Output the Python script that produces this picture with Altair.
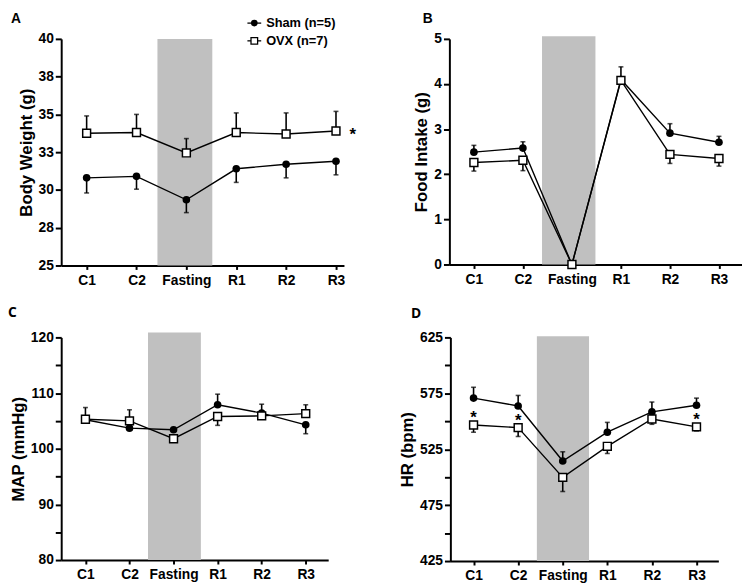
import altair as alt
import pandas as pd

categories = ["C1", "C2", "Fasting", "R1", "R2", "R3"]
groups = ["Sham (n=5)", "OVX (n=7)"]

# Panel A: body weight (g)
bw_sham = [30.8, 30.9, 29.35, 31.4, 31.7, 31.9]
bw_sham_err = [-1.0, -0.85, -0.85, -0.9, -0.9, -0.9]
bw_ovx = [33.75, 33.8, 32.45, 33.8, 33.7, 33.9]
bw_ovx_err = [1.15, 1.2, 0.95, 1.3, 1.4, 1.3]

# Panel B: food intake (g)
fi_sham = [2.49, 2.58, 0.0, 4.1, 2.91, 2.71]
fi_sham_err = [0.15, 0.14, 0.0, 0.28, 0.21, 0.13]
fi_ovx = [2.26, 2.31, 0.0, 4.08, 2.44, 2.35]
fi_ovx_err = [-0.19, -0.23, 0.0, 0.0, -0.2, -0.17]

# Panel C: MAP (mmHg)
map_sham = [105.2, 103.7, 103.4, 107.9, 106.4, 104.3]
map_sham_err = [0.0, 0.0, 0.0, 1.9, 1.6, -1.6]
map_ovx = [105.3, 105.0, 101.8, 105.8, 105.9, 106.3]
map_ovx_err = [2.1, 2.0, 0.0, -1.6, 0.0, 1.6]

# Panel D: HR (bpm)
hr_sham = [570.7, 563.7, 514.5, 540.2, 558.4, 564.3]
hr_sham_err = [9.7, 9.4, 8.2, 8.8, 8.8, 6.4]
hr_ovx = [546.7, 544.3, 499.8, 527.6, 552.0, 545.0]
hr_ovx_err = [-6.5, -7.9, -12.6, -6.4, -4.7, -3.6]

# significance stars (category index of OVX points)
bw_stars = [5]
hr_stars = [0, 1, 5]

FONT = "Liberation Sans"
label_expr_x = "[" + ",".join("'%s'" % c for c in categories) + "][datum.value]"


def make_df(sham, sham_err, ovx, ovx_err):
    rows = []
    for i in range(len(categories)):
        rows.append(dict(idx=i, group=groups[0], mean=sham[i], err=sham_err[i],
                         end=sham[i] + sham_err[i]))
        rows.append(dict(idx=i, group=groups[1], mean=ovx[i], err=ovx_err[i],
                         end=ovx[i] + ovx_err[i]))
    return pd.DataFrame(rows)


def legend_layers(x0, y0, dy):
    """Hand-drawn legend (line through marker + bold label), placed in pixels."""
    out = []
    for k, g in enumerate(groups):
        d = alt.Chart(pd.DataFrame(dict(label=[g])))
        y = y0 + k * dy
        out.append(d.mark_rule(color="black", strokeWidth=1.3).encode(
            x=alt.value(x0 - 7), x2=alt.value(x0 + 7), y=alt.value(y)))
        if k == 0:
            out.append(d.mark_point(shape="circle", filled=True, color="black", size=45,
                                    opacity=1).encode(x=alt.value(x0), y=alt.value(y)))
        else:
            out.append(d.mark_point(shape="square", filled=True, fill="white", stroke="black",
                                    strokeWidth=1.3, size=45, opacity=1).encode(
                x=alt.value(x0), y=alt.value(y)))
        out.append(d.mark_text(align="left", baseline="middle", font=FONT, fontWeight="bold",
                               fontSize=13, color="black").encode(
            x=alt.value(x0 + 12), y=alt.value(y), text="label:N"))
    return out


def panel(letter, letter_font, letter_x, letter_y, ytitle, df, ydomain, yvalues, ylabel_expr,
          xdomain, shade, shade_top, width, height, stars=None, star_dx=0, star_dy=0,
          legend=False):
    xs = alt.Scale(domain=xdomain, nice=False, zero=False)
    ys = alt.Scale(domain=ydomain, nice=False, zero=False)
    xaxis = alt.Axis(values=list(range(len(categories))), labelExpr=label_expr_x,
                     title=None, tickSize=4, labelPadding=4, labelFontSize=14)
    yaxis = alt.Axis(values=yvalues, labelExpr=ylabel_expr, title=ytitle,
                     tickSize=6, labelPadding=2, titlePadding=3)
    X = alt.X("idx:Q", scale=xs, axis=xaxis)
    Y = alt.Y("mean:Q", scale=ys, axis=yaxis)

    shade_df = pd.DataFrame([dict(x1=shade[0], x2=shade[1], y1=ydomain[0], y2=shade_top)])
    shade_layer = alt.Chart(shade_df).mark_rect(color="#c0c0c0").encode(
        x=alt.X("x1:Q", scale=xs, axis=xaxis), x2="x2:Q",
        y=alt.Y("y1:Q", scale=ys, axis=yaxis), y2="y2:Q")

    base = alt.Chart(df)
    errs = base.transform_filter("datum.err != 0")
    err_rule = errs.mark_rule(color="black", strokeWidth=1.6).encode(
        x=X, y=Y, y2="end:Q")
    err_cap = errs.mark_tick(color="black", orient="horizontal", size=5, thickness=1.6).encode(
        x=X, y=alt.Y("end:Q", scale=ys, axis=yaxis))
    lines = base.mark_line(color="black", strokeWidth=1.4).encode(
        x=X, y=Y, detail="group:N")
    sham_pts = base.transform_filter(alt.datum.group == groups[0]).mark_point(
        shape="circle", filled=True, color="black", size=60, opacity=1).encode(x=X, y=Y)
    ovx_pts = base.transform_filter(alt.datum.group == groups[1]).mark_point(
        shape="square", filled=True, fill="white", stroke="black", strokeWidth=1.5,
        size=64, opacity=1).encode(x=X, y=Y)

    letter_layer = alt.Chart(pd.DataFrame(dict(t=[letter]))).mark_text(
        align="left", baseline="middle", font=letter_font, fontWeight="bold", fontSize=14,
        color="black").encode(x=alt.value(letter_x), y=alt.value(letter_y), text="t:N")

    layers = [shade_layer, err_rule, err_cap, lines, sham_pts, ovx_pts, letter_layer]

    if stars:
        sdf = df[(df.group == groups[1]) & (df.idx.isin(stars))]
        star_layer = alt.Chart(sdf).mark_text(
            text="*", font=FONT, fontWeight="bold", fontSize=17, color="black",
            dx=star_dx, dy=star_dy, baseline="middle").encode(x=X, y=Y)
        layers.append(star_layer)

    if legend:
        layers.extend(legend_layers(196, -16, 18))

    return alt.layer(*layers).properties(width=width, height=height)


pA = panel("A", FONT, -51, -20, "Body Weight (g)", make_df(bw_sham, bw_sham_err, bw_ovx, bw_ovx_err),
           [25, 40], [25, 27.5, 30, 32.5, 35, 37.5, 40], "format(datum.value, '.0f')",
           [-0.51, 5.16], [1.42, 2.52], 40, 287, 230, stars=bw_stars, star_dx=17, star_dy=4,
           legend=True)
pB = panel("B", FONT, -27, -20, "Food Intake (g)", make_df(fi_sham, fi_sham_err, fi_ovx, fi_ovx_err),
           [0, 5], [0, 1, 2, 3, 4, 5], "datum.label",
           [-0.5, 5.47], [1.39, 2.48], 5.06, 297, 229)
pC = panel("C", "Open Sans", -54, -25, "MAP (mmHg)", make_df(map_sham, map_sham_err, map_ovx, map_ovx_err),
           [80, 120], list(range(80, 121, 5)), "datum.value % 10 == 0 ? datum.label : ''",
           [-0.55, 5.51], [1.42, 2.62], 120.9, 271, 226)
pD = panel("D", "Open Sans", -40, -24, "HR (bpm)", make_df(hr_sham, hr_sham_err, hr_ovx, hr_ovx_err),
           [425, 625], list(range(425, 626, 25)), "(datum.value - 425) % 50 == 0 ? datum.label : ''",
           [-0.52, 5.49], [1.42, 2.59], 626, 272, 227, stars=hr_stars, star_dx=0, star_dy=-7)

chart = alt.vconcat(
    alt.hconcat(pA, pB, spacing=57),
    alt.hconcat(pC, pD, spacing=71),
    spacing=19,
).properties(
    padding={"left": 0, "top": 0, "right": 0, "bottom": 0}
).configure_view(stroke=None).configure_axis(
    grid=False, domainColor="black", domainWidth=2, tickColor="black", tickWidth=2,
    labelFont=FONT, labelFontWeight="bold", labelFontSize=14, labelColor="black",
    titleFont=FONT, titleFontWeight="bold", titleFontSize=17, titleColor="black",
).configure_concat(spacing=10)

chart.save("out.html", embed_options={"renderer": "svg", "actions": False})
